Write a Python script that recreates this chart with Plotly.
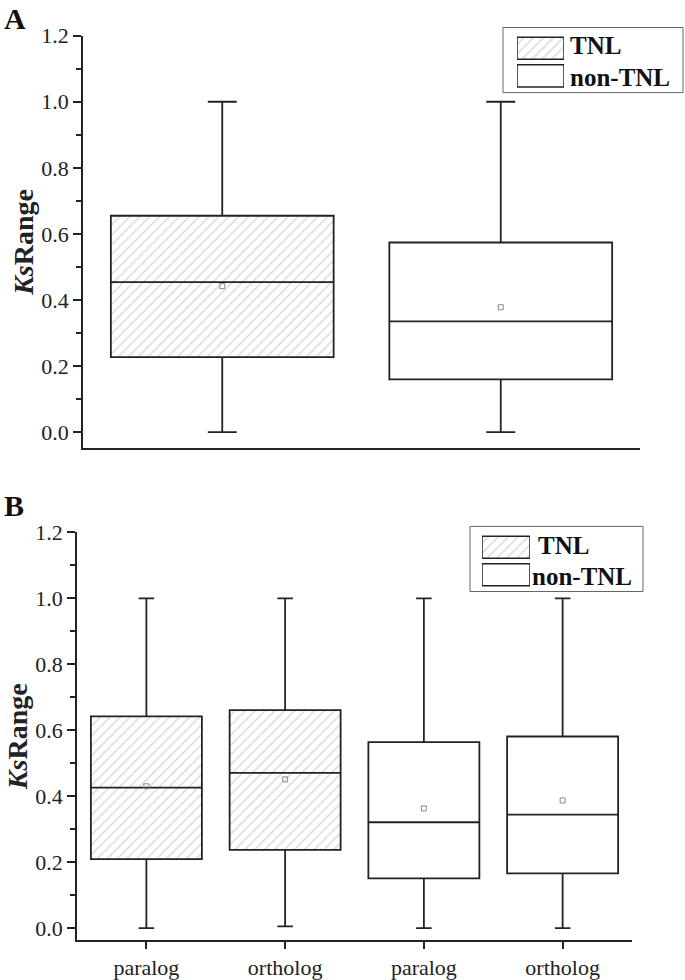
import plotly.graph_objects as go

# ---------------- data ----------------
# Panel A
a_groups = ["TNL", "non-TNL"]
a_pos = [1, 2]
a_lower = [0.0, 0.0]
a_q1 = [0.227, 0.160]
a_median = [0.454, 0.335]
a_q3 = [0.655, 0.574]
a_upper = [1.0, 1.0]
a_mean = [0.442, 0.378]

# Panel B
b_labels = ["paralog", "ortholog", "paralog", "ortholog"]
b_family = ["TNL", "TNL", "non-TNL", "non-TNL"]
b_pos = [1, 2, 3, 4]
b_lower = [0.0, 0.005, 0.0, 0.0]
b_q1 = [0.209, 0.237, 0.151, 0.166]
b_median = [0.426, 0.471, 0.321, 0.344]
b_q3 = [0.642, 0.661, 0.564, 0.581]
b_upper = [1.0, 1.0, 1.0, 1.0]
b_mean = [0.430, 0.451, 0.363, 0.387]

legend_labels = ["TNL", "non-TNL"]
y_ticks = [0.0, 0.2, 0.4, 0.6, 0.8, 1.0, 1.2]

# ---------------- style ----------------
W, H = 685, 980
FONT = "Liberation Serif, Times New Roman, serif"
INK = "#222222"
HATCH = dict(shape="/", fgcolor="#b0b0b0", bgcolor="white", size=7, solidity=0.2)


def px_x(p):
    return p / W


def px_y(p):
    return 1 - p / H


fig = go.Figure()


def add_panel(xa, ya, pos, fam, lo, q1, med, q3, up, mean, whisk):
    hatch_x = [p for p, f in zip(pos, fam) if f == "TNL"]
    hatch_b = [a for a, f in zip(q1, fam) if f == "TNL"]
    hatch_h = [b - a for a, b, f in zip(q1, q3, fam) if f == "TNL"]
    fig.add_trace(go.Bar(
        x=hatch_x, y=hatch_h, base=hatch_b, width=0.8,
        marker=dict(color="white", pattern=HATCH, line=dict(width=0)),
        xaxis=xa, yaxis=ya, showlegend=False, hoverinfo="skip"))
    fig.add_trace(go.Box(
        x=pos, q1=q1, median=med, q3=q3, lowerfence=lo, upperfence=up,
        width=0.8, whiskerwidth=whisk, fillcolor="rgba(0,0,0,0)",
        line=dict(color=INK, width=1.8), boxpoints=False,
        xaxis=xa, yaxis=ya, showlegend=False))
    fig.add_trace(go.Scatter(
        x=pos, y=mean, mode="markers",
        marker=dict(symbol="square-open", size=5, color="#8a8a8a", line=dict(width=1)),
        xaxis=xa, yaxis=ya, showlegend=False, hoverinfo="skip"))


add_panel("x", "y", a_pos, a_groups, a_lower, a_q1, a_median, a_q3, a_upper, a_mean, 0.13)
add_panel("x2", "y2", b_pos, b_family, b_lower, b_q1, b_median, b_q3, b_upper, b_mean, 0.14)

# legend swatches (drawn as bars on small axes)
for xa, ya in (("x3", "y3"), ("x4", "y4")):
    fig.add_trace(go.Bar(
        y=[1], x=[1], base=[0], width=0.8, orientation="h",
        marker=dict(color="white", pattern=HATCH, line=dict(color=INK, width=1.5)),
        xaxis=xa, yaxis=ya, showlegend=False, hoverinfo="skip"))
    fig.add_trace(go.Bar(
        y=[0], x=[1], base=[0], width=0.8, orientation="h",
        marker=dict(color="white", line=dict(color=INK, width=1.5)),
        xaxis=xa, yaxis=ya, showlegend=False, hoverinfo="skip"))

yax_common = dict(
    showline=True, linecolor=INK, linewidth=1.5, mirror=False,
    ticks="outside", ticklen=8, tickwidth=1.5, tickcolor=INK,
    tickvals=y_ticks, tickformat=".1f",
    tickfont=dict(family=FONT, size=22, color=INK),
    minor=dict(dtick=0.1, ticks="outside", ticklen=5, tickwidth=1.5, tickcolor=INK),
    showgrid=False, zeroline=False,
    title=dict(text="<b><i>Ks</i>Range</b>", font=dict(family=FONT, size=28, color=INK), standoff=0),
)

ya = dict(yax_common); ya.update(range=[-0.0484, 1.2], domain=[px_y(442), px_y(24)], anchor="x")
yb = dict(yax_common); yb.update(range=[-0.0365, 1.2], domain=[px_y(940.6), px_y(527.4)], anchor="x2")

fig.update_layout(
    width=W, height=H, margin=dict(l=0, r=0, t=0, b=0),
    paper_bgcolor="white", plot_bgcolor="white", showlegend=False,
    barmode="overlay",
    xaxis=dict(domain=[px_x(83), px_x(640)], range=[0.5, 2.5], showline=True, linecolor=INK,
               linewidth=1.5, ticks="", showticklabels=False, showgrid=False, zeroline=False,
               anchor="y"),
    yaxis=ya,
    xaxis2=dict(domain=[px_x(77), px_x(632)], range=[0.5, 4.5], showline=True, linecolor=INK,
                linewidth=1.5, ticks="outside", ticklen=7, tickwidth=1.5, tickcolor=INK,
                tickvals=b_pos, ticktext=b_labels,
                tickfont=dict(family=FONT, size=22, color=INK),
                showgrid=False, zeroline=False, anchor="y2"),
    yaxis2=yb,
    xaxis3=dict(domain=[px_x(517), px_x(564)], range=[0, 1], visible=False, anchor="y3", fixedrange=True),
    yaxis3=dict(domain=[px_y(78.7), px_y(22.8)], range=[-0.5, 1.5], visible=False, anchor="x3", fixedrange=True),
    xaxis4=dict(domain=[px_x(482), px_x(530)], range=[0, 1], visible=False, anchor="y4", fixedrange=True),
    yaxis4=dict(domain=[px_y(584.3), px_y(528.4)], range=[-0.5, 1.5], visible=False, anchor="x4", fixedrange=True),
)

# legend boxes
fig.add_shape(type="rect", xref="paper", yref="paper",
              x0=px_x(503), x1=px_x(683), y0=px_y(81.7), y1=px_y(15.7),
              line=dict(color="#666666", width=1), fillcolor="rgba(0,0,0,0)", layer="below")
fig.add_shape(type="rect", xref="paper", yref="paper",
              x0=px_x(470), x1=px_x(643), y0=px_y(587.3), y1=px_y(521.3),
              line=dict(color="#666666", width=1), fillcolor="rgba(0,0,0,0)", layer="below")

ann = []
leg_a = [(568, 34), (568, 66.5)]
leg_b = [(536, 540.6), (530, 572.1)]
for lab, (lx, ly) in zip(legend_labels, leg_a):
    ann.append(dict(x=px_x(lx), y=px_y(ly), xref="paper", yref="paper", text=f"<b>{lab}</b>",
                    showarrow=False, xanchor="left", yanchor="middle",
                    font=dict(family=FONT, size=25, color="#111")))
for lab, (lx, ly) in zip(legend_labels, leg_b):
    ann.append(dict(x=px_x(lx), y=px_y(ly), xref="paper", yref="paper", text=f"<b>{lab}</b>",
                    showarrow=False, xanchor="left", yanchor="middle",
                    font=dict(family=FONT, size=25, color="#111")))
# panel letters
ann.append(dict(x=px_x(2), y=px_y(7), xref="paper", yref="paper", text="<b>A</b>",
                showarrow=False, xanchor="left", yanchor="middle",
                font=dict(family=FONT, size=30, color="#111")))
ann.append(dict(x=px_x(2), y=px_y(500), xref="paper", yref="paper", text="<b>B</b>",
                showarrow=False, xanchor="left", yanchor="middle",
                font=dict(family=FONT, size=30, color="#111")))
fig.update_layout(annotations=ann)

fig.write_html(
    "out.html",
    config={"displayModeBar": False},
    post_script=(
        "var d=document.documentElement,b=document.body;"
        "d.style.margin='0';d.style.padding='0';d.style.overflow='hidden';"
        "b.style.margin='0';b.style.padding='0';b.style.overflow='hidden';"
    ),
)
